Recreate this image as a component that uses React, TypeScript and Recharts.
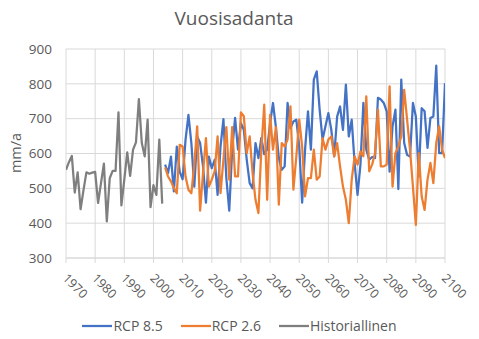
import React from 'react';
import { LineChart, Line, XAxis, YAxis, CartesianGrid, Legend } from 'recharts';

const firstYear = 1970;
const lastYear = 2100;
const historyStart = 1970;
const scenarioStart = 2004;

const historiallinen = [
  553, 575, 593, 488, 546, 440, 495, 546, 542, 545,
  547, 458, 515, 571, 405, 529, 550, 550, 718, 451,
  525, 603, 536, 611, 632, 756, 630, 592, 697, 446,
  509, 481, 640, 456,
];

const rcp85 = [
  568, 544, 591, 491, 620, 548, 526, 639, 711, 630,
  505, 649, 630, 563, 459, 591, 558, 582, 481, 620,
  699, 529, 436, 611, 702, 611, 687, 668, 582, 515,
  500, 630, 587, 645, 598, 611, 687, 745, 676, 587,
  553, 563, 745, 673, 692, 697, 620, 459, 611, 721,
  611, 812, 836, 726, 640, 678, 716, 668, 592, 706,
  735, 668, 798, 649, 697, 572, 481, 568, 745, 611,
  582, 590, 587, 760, 755, 745, 721, 548, 678, 726,
  498, 812, 630, 596, 591, 745, 706, 534, 730, 721,
  616, 702, 706, 852, 601, 601, 802,
];

const rcp26 = [
  560, 534, 520, 501, 486, 625, 620, 534, 496, 486,
  568, 678, 436, 544, 644, 505, 525, 549, 649, 486,
  582, 676, 525, 676, 534, 534, 718, 707, 601, 649,
  544, 467, 429, 611, 740, 467, 711, 611, 676, 453,
  630, 620, 640, 735, 496, 591, 697, 620, 477, 529,
  529, 611, 525, 534, 644, 611, 640, 649, 592, 630,
  563, 505, 467, 400, 525, 592, 568, 606, 592, 764,
  549, 568, 601, 726, 563, 563, 568, 793, 505, 601,
  620, 650, 783, 697, 611, 505, 395, 601, 477, 438,
  525, 573, 515, 630, 678, 611, 587,
];

const xTicks = [1970, 1980, 1990, 2000, 2010, 2020, 2030, 2040, 2050, 2060, 2070, 2080, 2090, 2100];
const yTicks = [300, 400, 500, 600, 700, 800, 900];

const seriesInfo = [
  { key: 'rcp85', name: 'RCP 8.5', color: '#4472C4' },
  { key: 'rcp26', name: 'RCP 2.6', color: '#ED7D31' },
  { key: 'hist', name: 'Historiallinen', color: '#7F7F7F' },
];

const data: any[] = [];
for (let yr = firstYear; yr <= lastYear; yr++) {
  const row: any = { year: yr };
  const hi = yr - historyStart;
  if (hi >= 0 && hi < historiallinen.length) row.hist = historiallinen[hi];
  const si = yr - scenarioStart;
  if (si >= 0 && si < rcp85.length) row.rcp85 = rcp85[si];
  if (si >= 0 && si < rcp26.length) row.rcp26 = rcp26[si];
  data.push(row);
}

const FONT = '"Open Sans", "Noto Sans", sans-serif';
const TXT = '#595959';

const XTick = (props: any) => {
  const { x, y, payload } = props;
  const tx = x - 4;
  const ty = y + 14;
  return (
    <text x={tx} y={ty} transform={`rotate(45, ${tx}, ${ty})`} textAnchor="start"
      fill={TXT} fontSize={12.5} fontFamily={FONT}>
      {payload.value}
    </text>
  );
};

const LegendContent = () => (
  <div style={{ display: 'flex', justifyContent: 'center', alignItems: 'center', gap: 18, fontFamily: FONT, fontSize: 14, color: TXT }}>
    {seriesInfo.map((s) => (
      <div key={s.key} style={{ display: 'flex', alignItems: 'center' }}>
        <svg width={30} height={4} style={{ marginRight: 1 }}>
          <line x1={0} y1={2} x2={30} y2={2} stroke={s.color} strokeWidth={2.25} />
        </svg>
        <span>{s.name}</span>
      </div>
    ))}
  </div>
);

export default function App() {
  return (
    <div style={{ position: 'absolute', left: 0, top: 0, width: 479, height: 339, background: '#fff' }}>
      <div style={{ position: 'absolute', left: 0, top: 5, width: 468, textAlign: 'center', fontFamily: FONT, fontSize: 19, color: TXT, lineHeight: 'normal' }}>
        Vuosisadanta
      </div>
      <LineChart width={479} height={339} data={data} margin={{ top: 49, right: 34, bottom: 0, left: 0 }}>
        <CartesianGrid stroke="#D9D9D9" strokeWidth={1} verticalPoints={undefined} />
        <XAxis dataKey="year" type="number" domain={[1970, 2100]} ticks={xTicks} interval={0}
          height={81} tick={<XTick />} tickSize={5} tickMargin={2}
          axisLine={{ stroke: '#D9D9D9' }} tickLine={{ stroke: '#D9D9D9' }} allowDataOverflow />
        <YAxis domain={[300, 900]} ticks={yTicks} width={66} axisLine={false} tickLine={false}
          tickSize={6} tickMargin={8} interval={0}
          tick={{ fill: TXT, fontSize: 13.5, fontFamily: FONT }}
          label={{
            content: () => (
              <text x={15} y={153} transform="rotate(-90, 15, 153)" textAnchor="middle" dominantBaseline="central"
                fill={TXT} fontSize={14.5} fontFamily={FONT}>mm/a</text>
            ),
          }} />
        {seriesInfo.map((s) => (
          <Line key={s.key} type="linear" dataKey={s.key} name={s.name} stroke={s.color} strokeWidth={2.25}
            dot={false} activeDot={false} isAnimationActive={false} connectNulls={false} strokeLinejoin="round" />
        ))}
        <Legend layout="horizontal" verticalAlign="middle" align="center" content={<LegendContent />}
          wrapperStyle={{ top: 316, left: 0, width: 479, height: 20 }} />
      </LineChart>
    </div>
  );
}
